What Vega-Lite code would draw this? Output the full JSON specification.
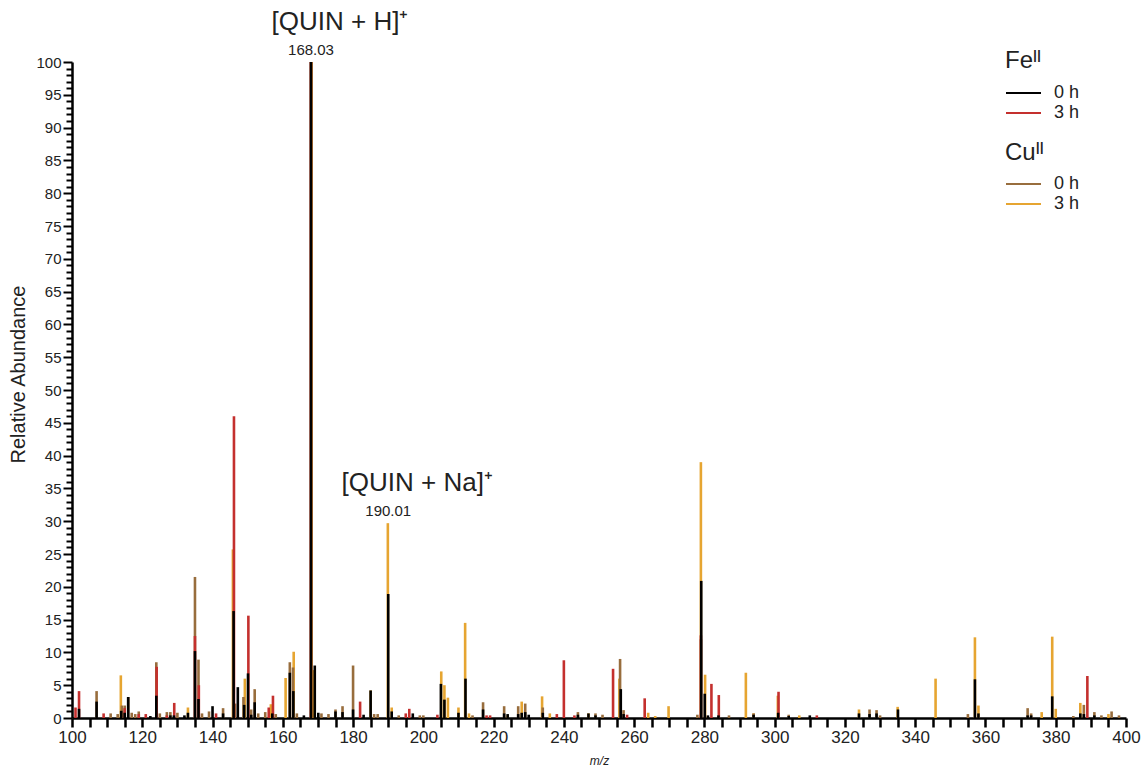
{
  "$schema": "https://vega.github.io/schema/vega-lite/v6.json",
  "width": 1054,
  "height": 656,
  "autosize": "none",
  "padding": {"left": 72, "top": 62, "right": 15, "bottom": 49},
  "background": "white",
  "config": {
    "font": "Liberation Sans",
    "view": {"stroke": null},
    "axis": {"domainColor": "#000", "domainWidth": 2.5, "tickColor": "#000", "tickWidth": 2.5, "labelColor": "#222", "titleColor": "#222", "titleFontWeight": "normal", "grid": false, "labelOverlap": false, "labelFlush": false}
  },
  "datasets": {
    "peaks": [
      {"metal":"Cu","time":"3 h","mz":113.9,"ab":6.5},
      {"metal":"Cu","time":"3 h","mz":133,"ab":1.6},
      {"metal":"Cu","time":"3 h","mz":145.8,"ab":25.7},
      {"metal":"Cu","time":"3 h","mz":149.2,"ab":6.0},
      {"metal":"Cu","time":"3 h","mz":156.6,"ab":2.1},
      {"metal":"Cu","time":"3 h","mz":160.8,"ab":6.1},
      {"metal":"Cu","time":"3 h","mz":163.1,"ab":10.1},
      {"metal":"Cu","time":"3 h","mz":168.2,"ab":100},
      {"metal":"Cu","time":"3 h","mz":168.7,"ab":7.3},
      {"metal":"Cu","time":"3 h","mz":185,"ab":4.2},
      {"metal":"Cu","time":"3 h","mz":189.9,"ab":29.7},
      {"metal":"Cu","time":"3 h","mz":191,"ab":1.6},
      {"metal":"Cu","time":"3 h","mz":205.1,"ab":7.1},
      {"metal":"Cu","time":"3 h","mz":206,"ab":5.0},
      {"metal":"Cu","time":"3 h","mz":207,"ab":3.1},
      {"metal":"Cu","time":"3 h","mz":210,"ab":1.6},
      {"metal":"Cu","time":"3 h","mz":211.9,"ab":14.5},
      {"metal":"Cu","time":"3 h","mz":213,"ab":0.7},
      {"metal":"Cu","time":"3 h","mz":224,"ab":0.4},
      {"metal":"Cu","time":"3 h","mz":228,"ab":2.5},
      {"metal":"Cu","time":"3 h","mz":233.8,"ab":3.3},
      {"metal":"Cu","time":"3 h","mz":236,"ab":0.7},
      {"metal":"Cu","time":"3 h","mz":247,"ab":0.7},
      {"metal":"Cu","time":"3 h","mz":255.8,"ab":6.0},
      {"metal":"Cu","time":"3 h","mz":264,"ab":0.8},
      {"metal":"Cu","time":"3 h","mz":266,"ab":0.3},
      {"metal":"Cu","time":"3 h","mz":269.8,"ab":1.8},
      {"metal":"Cu","time":"3 h","mz":279.0,"ab":39.0},
      {"metal":"Cu","time":"3 h","mz":280.2,"ab":6.6},
      {"metal":"Cu","time":"3 h","mz":291.8,"ab":6.9},
      {"metal":"Cu","time":"3 h","mz":294,"ab":0.7},
      {"metal":"Cu","time":"3 h","mz":300.9,"ab":3.4},
      {"metal":"Cu","time":"3 h","mz":307,"ab":0.4},
      {"metal":"Cu","time":"3 h","mz":324,"ab":1.3},
      {"metal":"Cu","time":"3 h","mz":335,"ab":1.7},
      {"metal":"Cu","time":"3 h","mz":345.8,"ab":6.0},
      {"metal":"Cu","time":"3 h","mz":357,"ab":12.3},
      {"metal":"Cu","time":"3 h","mz":358,"ab":1.9},
      {"metal":"Cu","time":"3 h","mz":376,"ab":0.9},
      {"metal":"Cu","time":"3 h","mz":379,"ab":12.4},
      {"metal":"Cu","time":"3 h","mz":380,"ab":1.4},
      {"metal":"Cu","time":"3 h","mz":387,"ab":2.3},
      {"metal":"Cu","time":"3 h","mz":395,"ab":0.6},
      {"metal":"Cu","time":"0 h","mz":107,"ab":4.1},
      {"metal":"Cu","time":"0 h","mz":111,"ab":0.7},
      {"metal":"Cu","time":"0 h","mz":113,"ab":0.6},
      {"metal":"Cu","time":"0 h","mz":114.2,"ab":1.9},
      {"metal":"Cu","time":"0 h","mz":115,"ab":1.9},
      {"metal":"Cu","time":"0 h","mz":116,"ab":3.2},
      {"metal":"Cu","time":"0 h","mz":117,"ab":0.8},
      {"metal":"Cu","time":"0 h","mz":118,"ab":0.6},
      {"metal":"Cu","time":"0 h","mz":119,"ab":1.0},
      {"metal":"Cu","time":"0 h","mz":124,"ab":8.5},
      {"metal":"Cu","time":"0 h","mz":125,"ab":0.7},
      {"metal":"Cu","time":"0 h","mz":127,"ab":0.9},
      {"metal":"Cu","time":"0 h","mz":128,"ab":0.9},
      {"metal":"Cu","time":"0 h","mz":130,"ab":0.8},
      {"metal":"Cu","time":"0 h","mz":135,"ab":21.5},
      {"metal":"Cu","time":"0 h","mz":136,"ab":8.9},
      {"metal":"Cu","time":"0 h","mz":137,"ab":0.7},
      {"metal":"Cu","time":"0 h","mz":139,"ab":1.0},
      {"metal":"Cu","time":"0 h","mz":143,"ab":1.5},
      {"metal":"Cu","time":"0 h","mz":146.4,"ab":2.2},
      {"metal":"Cu","time":"0 h","mz":148.8,"ab":3.2},
      {"metal":"Cu","time":"0 h","mz":151,"ab":1.3},
      {"metal":"Cu","time":"0 h","mz":152,"ab":4.4},
      {"metal":"Cu","time":"0 h","mz":153,"ab":0.7},
      {"metal":"Cu","time":"0 h","mz":155,"ab":0.9},
      {"metal":"Cu","time":"0 h","mz":158,"ab":0.6},
      {"metal":"Cu","time":"0 h","mz":162,"ab":8.5},
      {"metal":"Cu","time":"0 h","mz":162.9,"ab":7.7},
      {"metal":"Cu","time":"0 h","mz":164,"ab":0.7},
      {"metal":"Cu","time":"0 h","mz":168,"ab":100},
      {"metal":"Cu","time":"0 h","mz":171,"ab":0.7},
      {"metal":"Cu","time":"0 h","mz":173,"ab":0.6},
      {"metal":"Cu","time":"0 h","mz":175,"ab":1.3},
      {"metal":"Cu","time":"0 h","mz":177,"ab":1.8},
      {"metal":"Cu","time":"0 h","mz":180,"ab":8.0},
      {"metal":"Cu","time":"0 h","mz":186,"ab":0.6},
      {"metal":"Cu","time":"0 h","mz":187,"ab":0.6},
      {"metal":"Cu","time":"0 h","mz":193,"ab":0.4},
      {"metal":"Cu","time":"0 h","mz":199,"ab":0.4},
      {"metal":"Cu","time":"0 h","mz":200,"ab":0.4},
      {"metal":"Cu","time":"0 h","mz":214,"ab":0.4},
      {"metal":"Cu","time":"0 h","mz":217,"ab":2.4},
      {"metal":"Cu","time":"0 h","mz":223,"ab":1.8},
      {"metal":"Cu","time":"0 h","mz":227,"ab":1.8},
      {"metal":"Cu","time":"0 h","mz":229,"ab":2.2},
      {"metal":"Cu","time":"0 h","mz":234,"ab":1.6},
      {"metal":"Cu","time":"0 h","mz":244,"ab":0.9},
      {"metal":"Cu","time":"0 h","mz":249,"ab":0.7},
      {"metal":"Cu","time":"0 h","mz":251,"ab":0.5},
      {"metal":"Cu","time":"0 h","mz":256,"ab":9.0},
      {"metal":"Cu","time":"0 h","mz":257,"ab":1.2},
      {"metal":"Cu","time":"0 h","mz":278,"ab":0.5},
      {"metal":"Cu","time":"0 h","mz":279,"ab":12.0},
      {"metal":"Cu","time":"0 h","mz":287,"ab":0.4},
      {"metal":"Cu","time":"0 h","mz":294,"ab":0.7},
      {"metal":"Cu","time":"0 h","mz":304,"ab":0.5},
      {"metal":"Cu","time":"0 h","mz":327,"ab":1.3},
      {"metal":"Cu","time":"0 h","mz":329,"ab":1.2},
      {"metal":"Cu","time":"0 h","mz":330,"ab":0.4},
      {"metal":"Cu","time":"0 h","mz":355,"ab":0.6},
      {"metal":"Cu","time":"0 h","mz":372,"ab":1.5},
      {"metal":"Cu","time":"0 h","mz":373,"ab":0.7},
      {"metal":"Cu","time":"0 h","mz":385,"ab":0.3},
      {"metal":"Cu","time":"0 h","mz":388,"ab":2.0},
      {"metal":"Cu","time":"0 h","mz":391,"ab":0.9},
      {"metal":"Cu","time":"0 h","mz":393,"ab":0.4},
      {"metal":"Cu","time":"0 h","mz":395.9,"ab":1.0},
      {"metal":"Cu","time":"0 h","mz":398,"ab":0.4},
      {"metal":"Fe","time":"3 h","mz":101,"ab":1.6},
      {"metal":"Fe","time":"3 h","mz":102,"ab":4.1},
      {"metal":"Fe","time":"3 h","mz":109,"ab":0.7},
      {"metal":"Fe","time":"3 h","mz":115,"ab":1.5},
      {"metal":"Fe","time":"3 h","mz":119,"ab":0.6},
      {"metal":"Fe","time":"3 h","mz":121,"ab":0.6},
      {"metal":"Fe","time":"3 h","mz":124.1,"ab":7.8},
      {"metal":"Fe","time":"3 h","mz":127,"ab":0.4},
      {"metal":"Fe","time":"3 h","mz":129.1,"ab":2.3},
      {"metal":"Fe","time":"3 h","mz":135,"ab":12.5},
      {"metal":"Fe","time":"3 h","mz":136.1,"ab":5.0},
      {"metal":"Fe","time":"3 h","mz":141,"ab":0.7},
      {"metal":"Fe","time":"3 h","mz":146.1,"ab":46.0},
      {"metal":"Fe","time":"3 h","mz":150.2,"ab":15.6},
      {"metal":"Fe","time":"3 h","mz":156,"ab":1.6},
      {"metal":"Fe","time":"3 h","mz":157.2,"ab":3.4},
      {"metal":"Fe","time":"3 h","mz":168,"ab":100},
      {"metal":"Fe","time":"3 h","mz":182,"ab":2.5},
      {"metal":"Fe","time":"3 h","mz":195,"ab":0.7},
      {"metal":"Fe","time":"3 h","mz":196,"ab":1.4},
      {"metal":"Fe","time":"3 h","mz":204,"ab":0.5},
      {"metal":"Fe","time":"3 h","mz":218,"ab":0.4},
      {"metal":"Fe","time":"3 h","mz":219,"ab":0.4},
      {"metal":"Fe","time":"3 h","mz":238,"ab":0.6},
      {"metal":"Fe","time":"3 h","mz":240,"ab":8.8},
      {"metal":"Fe","time":"3 h","mz":243,"ab":0.4},
      {"metal":"Fe","time":"3 h","mz":254,"ab":7.5},
      {"metal":"Fe","time":"3 h","mz":258,"ab":0.5},
      {"metal":"Fe","time":"3 h","mz":263,"ab":3.0},
      {"metal":"Fe","time":"3 h","mz":279,"ab":12.6},
      {"metal":"Fe","time":"3 h","mz":282,"ab":5.2},
      {"metal":"Fe","time":"3 h","mz":284.1,"ab":3.5},
      {"metal":"Fe","time":"3 h","mz":301.1,"ab":4.0},
      {"metal":"Fe","time":"3 h","mz":312,"ab":0.4},
      {"metal":"Fe","time":"3 h","mz":389,"ab":6.4},
      {"metal":"Fe","time":"0 h","mz":102,"ab":1.4},
      {"metal":"Fe","time":"0 h","mz":107,"ab":2.5},
      {"metal":"Fe","time":"0 h","mz":114,"ab":1.1},
      {"metal":"Fe","time":"0 h","mz":115,"ab":0.8},
      {"metal":"Fe","time":"0 h","mz":116,"ab":3.2},
      {"metal":"Fe","time":"0 h","mz":122.3,"ab":0.3},
      {"metal":"Fe","time":"0 h","mz":124,"ab":3.4},
      {"metal":"Fe","time":"0 h","mz":128,"ab":0.4},
      {"metal":"Fe","time":"0 h","mz":129,"ab":0.4},
      {"metal":"Fe","time":"0 h","mz":132,"ab":0.4},
      {"metal":"Fe","time":"0 h","mz":133,"ab":0.8},
      {"metal":"Fe","time":"0 h","mz":135,"ab":10.2},
      {"metal":"Fe","time":"0 h","mz":136,"ab":2.9},
      {"metal":"Fe","time":"0 h","mz":140,"ab":1.8},
      {"metal":"Fe","time":"0 h","mz":143,"ab":0.7},
      {"metal":"Fe","time":"0 h","mz":146,"ab":16.3},
      {"metal":"Fe","time":"0 h","mz":147.2,"ab":4.7},
      {"metal":"Fe","time":"0 h","mz":149,"ab":2.0},
      {"metal":"Fe","time":"0 h","mz":150.1,"ab":6.8},
      {"metal":"Fe","time":"0 h","mz":151,"ab":0.5},
      {"metal":"Fe","time":"0 h","mz":152,"ab":2.4},
      {"metal":"Fe","time":"0 h","mz":157,"ab":0.7},
      {"metal":"Fe","time":"0 h","mz":162,"ab":6.9},
      {"metal":"Fe","time":"0 h","mz":163,"ab":4.1},
      {"metal":"Fe","time":"0 h","mz":166,"ab":0.4},
      {"metal":"Fe","time":"0 h","mz":168.03,"ab":100},
      {"metal":"Fe","time":"0 h","mz":169.1,"ab":8.0},
      {"metal":"Fe","time":"0 h","mz":170.1,"ab":0.8},
      {"metal":"Fe","time":"0 h","mz":175,"ab":1.0},
      {"metal":"Fe","time":"0 h","mz":177,"ab":0.9},
      {"metal":"Fe","time":"0 h","mz":180,"ab":1.3},
      {"metal":"Fe","time":"0 h","mz":183,"ab":0.5},
      {"metal":"Fe","time":"0 h","mz":185,"ab":4.2},
      {"metal":"Fe","time":"0 h","mz":190.01,"ab":18.9},
      {"metal":"Fe","time":"0 h","mz":191,"ab":1.0},
      {"metal":"Fe","time":"0 h","mz":197,"ab":0.7},
      {"metal":"Fe","time":"0 h","mz":205,"ab":5.2},
      {"metal":"Fe","time":"0 h","mz":206,"ab":2.8},
      {"metal":"Fe","time":"0 h","mz":210,"ab":0.8},
      {"metal":"Fe","time":"0 h","mz":212,"ab":6.0},
      {"metal":"Fe","time":"0 h","mz":217,"ab":1.3},
      {"metal":"Fe","time":"0 h","mz":223,"ab":0.7},
      {"metal":"Fe","time":"0 h","mz":224,"ab":0.6},
      {"metal":"Fe","time":"0 h","mz":227,"ab":0.6},
      {"metal":"Fe","time":"0 h","mz":228,"ab":0.8},
      {"metal":"Fe","time":"0 h","mz":229,"ab":0.9},
      {"metal":"Fe","time":"0 h","mz":230,"ab":0.5},
      {"metal":"Fe","time":"0 h","mz":234,"ab":0.8},
      {"metal":"Fe","time":"0 h","mz":244,"ab":0.5},
      {"metal":"Fe","time":"0 h","mz":247,"ab":0.7},
      {"metal":"Fe","time":"0 h","mz":249,"ab":0.4},
      {"metal":"Fe","time":"0 h","mz":256.2,"ab":4.4},
      {"metal":"Fe","time":"0 h","mz":257,"ab":0.6},
      {"metal":"Fe","time":"0 h","mz":279.1,"ab":20.9},
      {"metal":"Fe","time":"0 h","mz":280.1,"ab":3.7},
      {"metal":"Fe","time":"0 h","mz":281,"ab":0.4},
      {"metal":"Fe","time":"0 h","mz":284,"ab":0.4},
      {"metal":"Fe","time":"0 h","mz":294,"ab":0.5},
      {"metal":"Fe","time":"0 h","mz":301,"ab":0.8},
      {"metal":"Fe","time":"0 h","mz":304,"ab":0.3},
      {"metal":"Fe","time":"0 h","mz":310,"ab":0.4},
      {"metal":"Fe","time":"0 h","mz":324,"ab":0.7},
      {"metal":"Fe","time":"0 h","mz":327,"ab":0.6},
      {"metal":"Fe","time":"0 h","mz":329,"ab":0.7},
      {"metal":"Fe","time":"0 h","mz":335.1,"ab":1.3},
      {"metal":"Fe","time":"0 h","mz":357,"ab":5.9},
      {"metal":"Fe","time":"0 h","mz":358,"ab":0.7},
      {"metal":"Fe","time":"0 h","mz":372,"ab":0.4},
      {"metal":"Fe","time":"0 h","mz":373,"ab":0.4},
      {"metal":"Fe","time":"0 h","mz":379,"ab":3.3},
      {"metal":"Fe","time":"0 h","mz":387,"ab":0.7},
      {"metal":"Fe","time":"0 h","mz":388,"ab":0.6},
      {"metal":"Fe","time":"0 h","mz":391,"ab":0.4}
    ],
    "masses": [
      {"mz": 168.03, "ab": 100, "t": "168.03"},
      {"mz": 190.01, "ab": 29.7, "t": "190.01"}
    ],
    "ions": [
      {"mz": 168.03, "ab": 100, "t": "[QUIN + H]⁺"},
      {"mz": 190.01, "ab": 29.7, "t": "[QUIN + Na]⁺"}
    ]
  },
  "encoding": {
    "x": {
      "field": "mz", "type": "quantitative",
      "scale": {"domain": [100, 400], "nice": false, "zero": false},
      "axis": {
        "title": "m/z", "titleFontStyle": "italic", "titleFontSize": 12, "titlePadding": 10,
        "values": [100,105,110,115,120,125,130,135,140,145,150,155,160,165,170,175,180,185,190,195,200,205,210,215,220,225,230,235,240,245,250,255,260,265,270,275,280,285,290,295,300,305,310,315,320,325,330,335,340,345,350,355,360,365,370,375,380,385,390,395,400],
        "labelExpr": "datum.value % 20 === 0 ? datum.label : ''",
        "tickSize": 9, "labelFontSize": 17, "labelPadding": 2
      }
    },
    "y": {
      "field": "ab", "type": "quantitative",
      "scale": {"domain": [0, 100], "nice": false},
      "axis": {
        "title": "Relative Abundance", "titleFontSize": 20, "titlePadding": 7, "titleY": 312,
        "values": [0,1,2,3,4,5,6,7,8,9,10,11,12,13,14,15,16,17,18,19,20,21,22,23,24,25,26,27,28,29,30,31,32,33,34,35,36,37,38,39,40,41,42,43,44,45,46,47,48,49,50,51,52,53,54,55,56,57,58,59,60,61,62,63,64,65,66,67,68,69,70,71,72,73,74,75,76,77,78,79,80,81,82,83,84,85,86,87,88,89,90,91,92,93,94,95,96,97,98,99,100],
        "labelExpr": "datum.value % 5 === 0 ? datum.label : ''",
        "tickSize": {"condition": {"test": "datum.value % 5 === 0", "value": 9}, "value": 6},
        "tickWidth": 2,
        "labelFontSize": 15, "labelPadding": 2
      }
    }
  },
  "layer": [
    {
      "data": {"name": "peaks"},
      "transform": [{"filter": "datum.metal === 'Cu'"}],
      "mark": {"type": "rule", "strokeWidth": 2.6},
      "encoding": {
        "y2": {"datum": 0},
        "color": {
          "field": "time", "type": "nominal",
          "scale": {"domain": ["0 h", "3 h"], "range": ["#986d3d", "#e6a531"]},
          "legend": {
            "title": "Cuᴵᴵ", "orient": "none", "legendX": 933, "legendY": 79,
            "symbolType": "stroke", "symbolSize": 1225, "symbolStrokeWidth": 2,
            "labelFontSize": 18, "labelColor": "#222", "titleFontSize": 24, "titleFontWeight": "normal", "titleColor": "#222",
            "clipHeight": 18, "rowPadding": 2, "labelOffset": 12, "titlePadding": 10, "padding": 0
          }
        }
      }
    },
    {
      "data": {"name": "peaks"},
      "transform": [{"filter": "datum.metal === 'Fe'"}],
      "mark": {"type": "rule", "strokeWidth": 2.6},
      "encoding": {
        "y2": {"datum": 0},
        "color": {
          "field": "time", "type": "nominal",
          "scale": {"domain": ["0 h", "3 h"], "range": ["#000000", "#c4302e"]},
          "legend": {
            "title": "Feᴵᴵ", "orient": "none", "legendX": 933, "legendY": -13,
            "symbolType": "stroke", "symbolSize": 1225, "symbolStrokeWidth": 2,
            "labelFontSize": 18, "labelColor": "#222", "titleFontSize": 24, "titleFontWeight": "normal", "titleColor": "#222",
            "clipHeight": 18, "rowPadding": 2, "labelOffset": 12, "titlePadding": 11, "padding": 0
          }
        }
      }
    },
    {
      "data": {"name": "masses"},
      "mark": {"type": "text", "fontSize": 15, "color": "#222", "baseline": "middle", "dy": -12},
      "encoding": {"text": {"field": "t"}}
    },
    {
      "data": {"name": "ions"},
      "mark": {"type": "text", "fontSize": 26, "color": "#222", "baseline": "middle", "dy": -40, "dx": 29},
      "encoding": {"text": {"field": "t"}}
    }
  ],
  "resolve": {"scale": {"color": "independent"}}
}
